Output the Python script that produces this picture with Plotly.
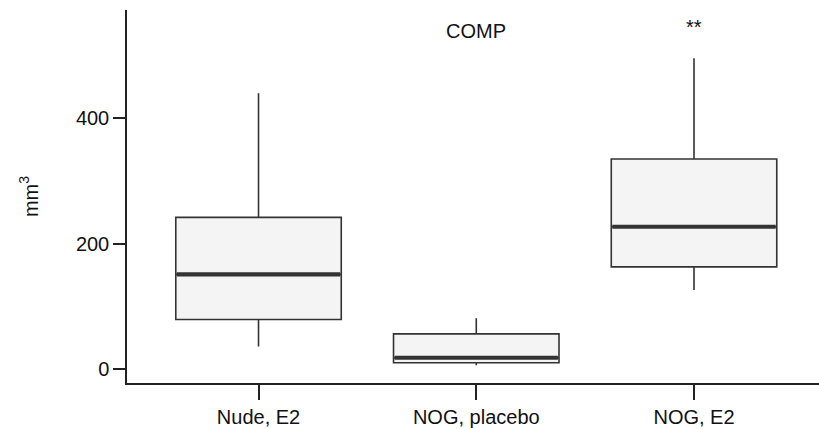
import plotly.graph_objects as go

categories = ["Nude, E2", "NOG, placebo", "NOG, E2"]
positions = [0, 1, 2]
q1 = [79, 10, 163]
median = [151, 18, 227]
q3 = [242, 56, 335]
lower_fence = [36, 6, 126]
upper_fence = [440, 81, 496]
title_text = "COMP"
significance = ["", "", "**"]
y_ticks = [0, 200, 400]

box_width = 0.76
font = "Liberation Sans, Arial, sans-serif"
dark = "#333333"
fs = 20

fig = go.Figure()
fig.add_trace(go.Box(
    x=positions, q1=q1, median=median, q3=q3,
    lowerfence=lower_fence, upperfence=upper_fence,
    width=box_width, whiskerwidth=0, boxpoints=False,
    fillcolor="#f4f4f4", line=dict(color=dark, width=1.6),
    showlegend=False,
))
# thick median bars
for p, m in zip(positions, median):
    fig.add_trace(go.Scatter(
        x=[p - box_width / 2 + 0.005, p + box_width / 2 - 0.005], y=[m, m],
        mode="lines", line=dict(color=dark, width=4.2),
        showlegend=False, hoverinfo="skip",
    ))

fig.add_annotation(x=positions[1], y=540, xref="x", yref="y", text=title_text,
                   showarrow=False, font=dict(family=font, size=fs, color="#111"),
                   yanchor="middle")
for p, s in zip(positions, significance):
    if s:
        fig.add_annotation(x=p, y=545, xref="x", yref="y", text=s,
                           showarrow=False, font=dict(family=font, size=fs, color="#111"),
                           yanchor="middle")

fig.update_layout(
    width=819, height=429,
    margin=dict(l=127, r=0, t=10, b=46),
    paper_bgcolor="white", plot_bgcolor="white",
    font=dict(family=font, size=fs, color="#111"),
    xaxis=dict(
        range=[-0.604, 2.574], tickvals=positions, ticktext=categories,
        showline=True, linecolor="#222", linewidth=1.5,
        ticks="outside", ticklen=15, tickwidth=1.5, tickcolor="#222",
        showgrid=False, zeroline=False,
        tickfont=dict(family=font, size=fs, color="#111"),
    ),
    yaxis=dict(
        range=[-22.3, 572.8], tickvals=y_ticks,
        showline=True, linecolor="#222", linewidth=1.5,
        ticks="outside", ticklen=12, tickwidth=1.5, tickcolor="#222",
        showgrid=False, zeroline=False,
        tickfont=dict(family=font, size=fs, color="#111"),
        title=dict(text="mm<sup>3</sup>", standoff=32,
                   font=dict(family=font, size=fs, color="#111")),
    ),
)

fig.write_html("out.html", config={"displayModeBar": False},
               post_script="document.body.style.margin='0';")
